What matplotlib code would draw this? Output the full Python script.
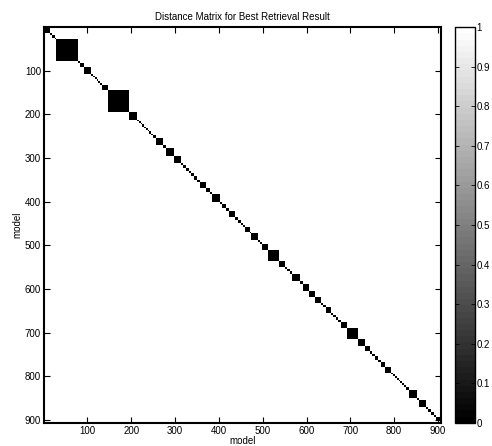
import numpy as np
import matplotlib
matplotlib.use("Agg")
import matplotlib.pyplot as plt

# sizes of the blocks of mutually matching models along the diagonal (in model order)
block_sizes = [
    3, 11, 4, 7, 3, 49, 6, 9, 15, 4, 4, 5, 4, 4, 4, 13, 49, 18,
    4, 4, 3, 5, 4, 4, 3, 5, 4, 6,
    16, 7, 18, 16, 5, 7, 6, 6, 6, 8, 6, 14, 8, 6, 18, 5, 8, 7, 14, 7, 7,
    4, 5, 11, 3, 16, 4, 5, 13, 26, 13, 5, 5, 6, 17, 7, 15, 14, 13, 4, 6,
    13, 5, 5, 6, 5, 14, 25, 16, 12, 5, 6, 8, 6, 10, 14,
    4, 4, 5, 3, 4, 4, 4, 4,
    7, 18, 6, 16, 5, 5, 7, 6, 9, 4,
]
in_block = 0.0    # distance inside a block
out_block = 1.0   # distance between blocks
cbar_ticks = [0, 0.1, 0.2, 0.3, 0.4, 0.5, 0.6, 0.7, 0.8, 0.9, 1]
axis_ticks = [100, 200, 300, 400, 500, 600, 700, 800, 900]

labels = np.repeat(np.arange(len(block_sizes)), block_sizes)
n = len(labels)
D = np.where(labels[:, None] == labels[None, :], in_block, out_block)

plt.rcParams["font.family"] = ["Liberation Sans", "DejaVu Sans"]

fig = plt.figure(figsize=(4.92, 4.46), dpi=100)
ax = fig.add_axes([0.089, 0.052, 0.807, 0.887])
cax = fig.add_axes([0.925, 0.052, 0.041, 0.887])

cmap = plt.get_cmap("gray", 64)
im = ax.imshow(D, cmap=cmap, vmin=0, vmax=1, aspect="auto",
               interpolation="nearest", extent=(0.5, n + 0.5, n + 0.5, 0.5))

ax.set_xticks(axis_ticks)
ax.set_yticks(axis_ticks)
ax.tick_params(direction="in", top=True, right=True, labelsize=7, length=4, width=0.8, pad=2)
for s in ax.spines.values():
    s.set_linewidth(1.5)
ax.set_title("Distance Matrix for Best Retrieval Result", fontsize=7, pad=5)
ax.set_xlabel("model", fontsize=7, labelpad=0)
ax.set_ylabel("model", fontsize=7, labelpad=2)

cb = fig.colorbar(im, cax=cax, ticks=cbar_ticks)
cb.ax.set_yticklabels([str(t) for t in cbar_ticks])
cb.ax.tick_params(direction="in", left=True, right=True, labelsize=7, length=3, width=0.6, pad=1)
cb.outline.set_linewidth(1.0)

fig.savefig("out.png", dpi=100)
